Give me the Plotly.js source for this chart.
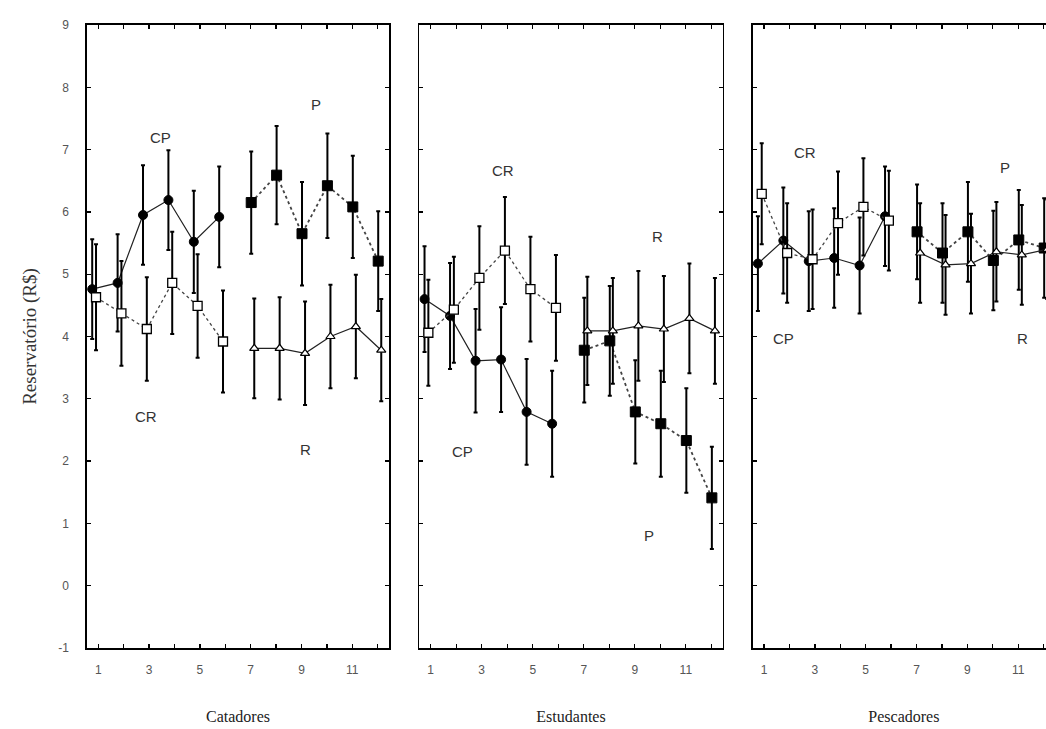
<!DOCTYPE html>
<html>
<head>
<meta charset="utf-8">
<script src="https://cdn.plot.ly/plotly-3.0.1.min.js"></script>
<style>
html,body{margin:0;padding:0;overflow:hidden;background:#fff;}
#chart{width:1070px;height:729px;}
</style>
</head>
<body>
<div id="chart"></div>
<script>
// ---------------- DATA ----------------
const groups = ['Catadores', 'Estudantes', 'Pescadores'];
const seriesNames = ['CP', 'CR', 'P', 'R'];
const xFirst = [1, 2, 3, 4, 5, 6];        // CP and CR
const xSecond = [7, 8, 9, 10, 11, 12];    // P and R
const xTickVals = [1, 2, 3, 4, 5, 6, 7, 8, 9, 10, 11, 12];
const xTickText = ['1', '', '3', '', '5', '', '7', '', '9', '', '11', ''];
const yTickVals = [-1, 0, 1, 2, 3, 4, 5, 6, 7, 8, 9];
const yTickText = ['-1', '0', '1', '2', '3', '4', '5', '6', '7', '8', '9'];
const yTitle = 'Reservatório (R$)';

// Catadores
const catCP = [4.76, 4.86, 5.95, 6.19, 5.52, 5.92];
const catCPerr = [0.80, 0.78, 0.80, 0.80, 0.82, 0.81];
const catCR = [4.63, 4.37, 4.12, 4.86, 4.49, 3.92];
const catCRerr = [0.85, 0.84, 0.83, 0.82, 0.83, 0.82];
const catP = [6.15, 6.59, 5.65, 6.42, 6.08, 5.21];
const catPerr = [0.82, 0.79, 0.83, 0.84, 0.82, 0.80];
const catR = [3.81, 3.81, 3.73, 4.00, 4.16, 3.78];
const catRerr = [0.80, 0.82, 0.83, 0.83, 0.83, 0.82];

// Estudantes
const estCP = [4.60, 4.33, 3.61, 3.63, 2.79, 2.60];
const estCPerr = [0.85, 0.85, 0.83, 0.84, 0.85, 0.85];
const estCR = [4.06, 4.43, 4.94, 5.38, 4.76, 4.46];
const estCRerr = [0.85, 0.85, 0.83, 0.86, 0.84, 0.85];
const estP = [3.78, 3.93, 2.79, 2.60, 2.33, 1.41];
const estPerr = [0.84, 0.88, 0.83, 0.85, 0.84, 0.82];
const estR = [4.09, 4.09, 4.17, 4.12, 4.29, 4.09];
const estRerr = [0.87, 0.85, 0.88, 0.85, 0.88, 0.85];

// Pescadores
const pesCP = [5.17, 5.54, 5.21, 5.26, 5.14, 5.93];
const pesCPerr = [0.76, 0.85, 0.80, 0.80, 0.77, 0.80];
const pesCR = [6.29, 5.34, 5.24, 5.82, 6.08, 5.86];
const pesCRerr = [0.81, 0.80, 0.80, 0.83, 0.78, 0.80];
const pesP = [5.68, 5.34, 5.68, 5.22, 5.55, 5.42];
const pesPerr = [0.76, 0.80, 0.80, 0.80, 0.80, 0.80];
const pesR = [5.34, 5.15, 5.17, 5.36, 5.31, 5.40];
const pesRerr = [0.80, 0.80, 0.80, 0.80, 0.80, 0.80];

// ---------------- STYLE / LAYOUT ----------------
const panelData = [
  {CP: catCP, CPe: catCPerr, CR: catCR, CRe: catCRerr, P: catP, Pe: catPerr, R: catR, Re: catRerr},
  {CP: estCP, CPe: estCPerr, CR: estCR, CRe: estCRerr, P: estP, Pe: estPerr, R: estR, Re: estRerr},
  {CP: pesCP, CPe: pesCPerr, CR: pesCR, CRe: pesCRerr, P: pesP, Pe: pesPerr, R: pesR, Re: pesRerr}
];

// horizontal dodge (in x units) applied per series, as in the original plot
const dodge = {CP: -0.24, CR: -0.09, P: 0.02, R: 0.14};

const styles = {
  CP: {mode: 'lines+markers', line: {color: '#222', width: 1.2, dash: 'solid'},
       marker: {symbol: 'circle', size: 9, color: '#000', line: {color: '#000', width: 1}}},
  CR: {mode: 'lines+markers', line: {color: '#444', width: 1.3, dash: 'dot'},
       marker: {symbol: 'square', size: 9, color: '#fff', line: {color: '#000', width: 1.3}}},
  P:  {mode: 'lines+markers', line: {color: '#444', width: 1.8, dash: 'dot'},
       marker: {symbol: 'square', size: 10, color: '#000', line: {color: '#000', width: 1}}},
  R:  {mode: 'lines+markers', line: {color: '#222', width: 1.2, dash: 'solid'},
       marker: {symbol: 'triangle-up', size: 8, color: '#fff', line: {color: '#000', width: 1.2}}}
};

// label positions (data units) per panel: CP, CR, P, R
const labelPos = [
  [[3.43, 7.20], [2.88, 2.71], [9.57, 7.73], [9.17, 2.18]],
  [[2.26, 2.15], [3.83, 6.67], [9.54, 0.80], [9.90, 5.60]],
  [[1.77, 3.96], [2.60, 6.96], [10.48, 6.72], [11.15, 3.96]]
];

const W = 1070, H = 729;
const M = {l: 87, r: 15, t: 25, b: 81};
const plotW = W - M.l - M.r;
const panelPx = [[87, 389], [419.3, 722.7], [752.7, 1055]];

const traces = [];
panelData.forEach((pd, i) => {
  const sfx = i === 0 ? '' : String(i + 1);
  seriesNames.forEach(name => {
    const xs = (name === 'CP' || name === 'CR') ? xFirst : xSecond;
    const st = styles[name];
    traces.push({
      type: 'scatter',
      x: xs.map(v => v + dodge[name]),
      y: pd[name],
      mode: st.mode,
      line: st.line,
      marker: st.marker,
      error_y: {type: 'data', array: pd[name + 'e'], visible: true,
                color: '#000', thickness: 2, width: 2},
      xaxis: 'x' + sfx,
      yaxis: 'y' + sfx,
      showlegend: false,
      hoverinfo: 'x+y'
    });
  });
});

const layout = {
  width: W, height: H,
  margin: M,
  paper_bgcolor: '#fff',
  plot_bgcolor: '#fff',
  showlegend: false,
  font: {family: 'Liberation Sans, Arial, sans-serif', color: '#333'},
  annotations: []
};

groups.forEach((g, i) => {
  const sfx = i === 0 ? '' : String(i + 1);
  const dom = [(panelPx[i][0] - M.l) / plotW, Math.min(1, (panelPx[i][1] - M.l) / plotW)];
  layout['xaxis' + sfx] = {
    domain: dom,
    anchor: 'y' + sfx,
    range: [0.555, 12.445],
    tickmode: 'array',
    tickvals: xTickVals,
    ticktext: xTickText,
    ticks: 'inside',
    ticklen: 4,
    tickwidth: 1.3,
    tickcolor: '#000',
    showline: true,
    linecolor: '#000',
    linewidth: 1.6,
    mirror: 'ticks',
    showgrid: false,
    zeroline: false,
    ticklabelstandoff: 10,
    tickfont: {family: 'Liberation Sans, Arial, sans-serif', size: 12, color: '#555'},
    title: {text: g, font: {family: 'Liberation Serif, Times New Roman, serif', size: 16, color: '#222'}, standoff: 35},
    automargin: false
  };
  layout['yaxis' + sfx] = {
    domain: [0, 1],
    anchor: 'x' + sfx,
    range: [-1, 9],
    tickmode: 'array',
    tickvals: yTickVals,
    ticktext: yTickText,
    ticks: 'inside',
    ticklen: 4,
    tickwidth: 1.3,
    tickcolor: '#000',
    showline: true,
    linecolor: '#000',
    linewidth: 1.6,
    mirror: 'ticks',
    showgrid: false,
    zeroline: false,
    showticklabels: i === 0,
    ticklabelstandoff: 14,
    tickfont: {family: 'Liberation Sans, Arial, sans-serif', size: 12, color: '#555'},
    automargin: false
  };
  if (i === 0) {
    layout.yaxis.title = {text: yTitle, font: {family: 'Liberation Serif, Times New Roman, serif', size: 19, color: '#333'}, standoff: 16};
  }
  seriesNames.forEach((name, k) => {
    layout.annotations.push({
      xref: 'x' + sfx, yref: 'y' + sfx,
      x: labelPos[i][k][0], y: labelPos[i][k][1],
      text: name, showarrow: false,
      font: {family: 'Liberation Sans, Arial, sans-serif', size: 15, color: '#333'}
    });
  });
});

Plotly.newPlot('chart', traces, layout, {displayModeBar: false, staticPlot: true});
</script>
</body>
</html>
